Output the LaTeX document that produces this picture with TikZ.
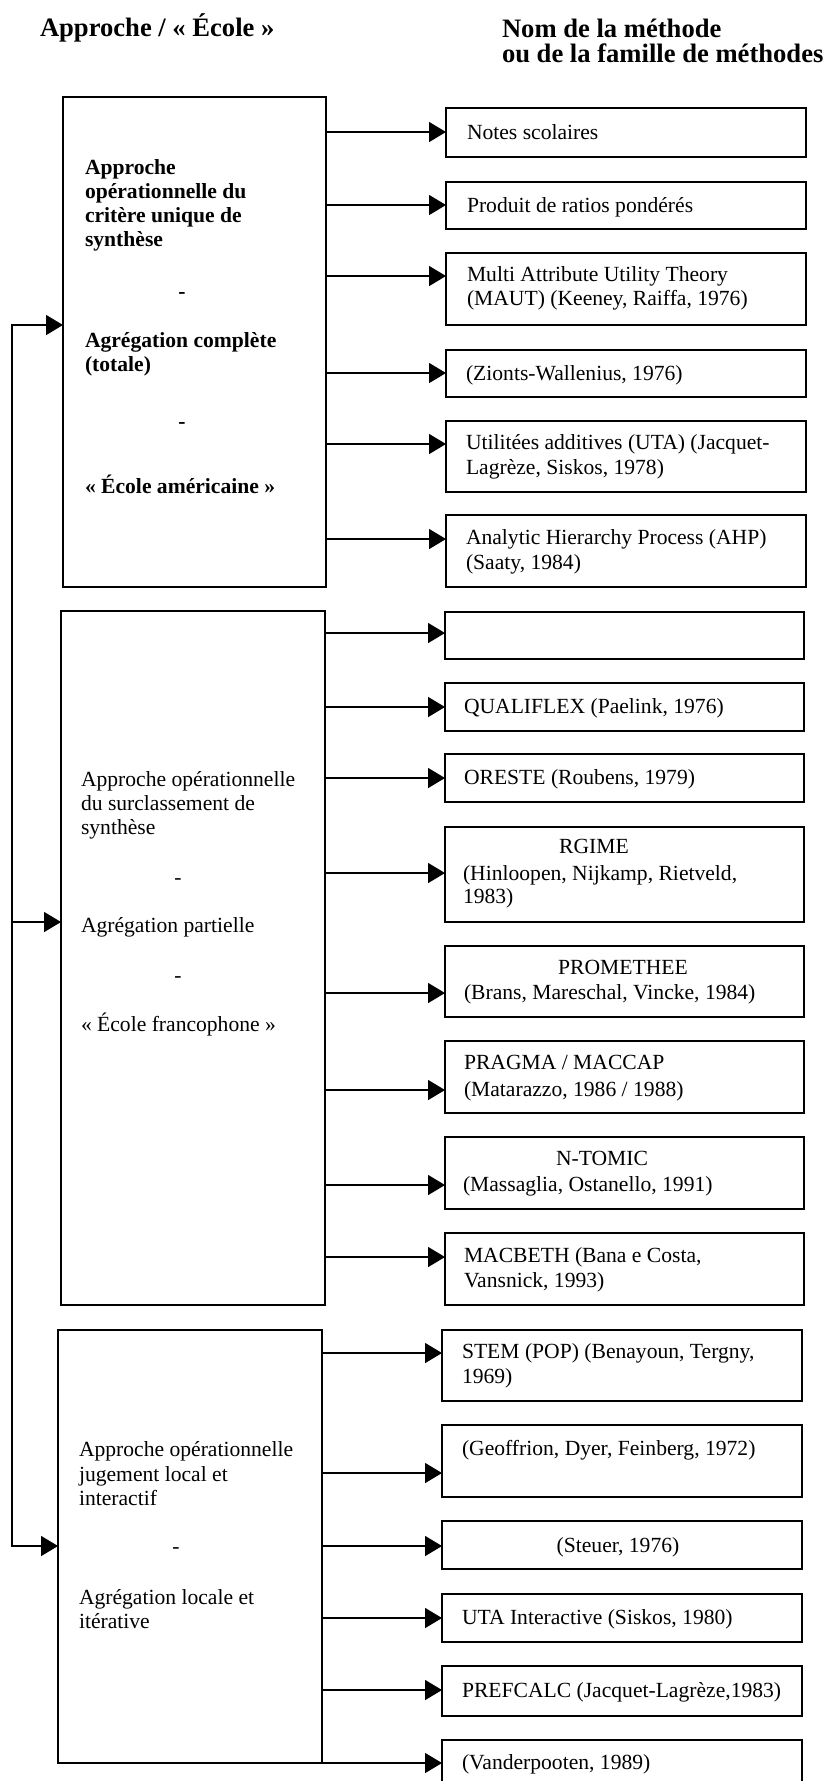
\documentclass[tikz,border=0pt]{standalone}
\usepackage{fontspec}
\setmainfont{Liberation Serif}
\usetikzlibrary{arrows.meta}
\begin{document}
\begin{tikzpicture}[x=1pt,y=-1pt,line width=1.6pt,
  bx/.style={draw,line width=1.6pt,anchor=north west,inner sep=0pt,outer sep=0pt},
  rb1/.style={bx,minimum width=360pt},
  rb2/.style={bx,minimum width=359pt},
  rb3/.style={bx,minimum width=360pt},
  txt/.style={anchor=base west,inner sep=0pt,outer sep=0pt,font=\fontsize{21.6}{25}\selectfont},
  ctxt/.style={txt,anchor=base},
  btxt/.style={txt,font=\fontsize{21.6}{25}\selectfont\bfseries},
  bctxt/.style={btxt,anchor=base},
  hdr/.style={txt,font=\fontsize{26.6}{25}\selectfont\bfseries},
  arr/.style={-{Triangle[length=17pt,width=20pt]},line width=1.6pt}]
\useasboundingbox (0,0) rectangle (834,1781);
\fill[white] (0,0) rectangle (834,1781);

% headers
\node[hdr] (h1) at (40,36) {Approche / « École »};
\node[hdr] (h2a) at (502,37) {Nom de la méthode};
\node[hdr] (h2b) at (502,62) {ou de la famille de méthodes};

% left boxes
\node[bx,minimum width=263pt,minimum height=490pt] (b1) at (63,97) {};
\node[bx,minimum width=264pt,minimum height=694pt] (b2) at (61,611) {};
\node[bx,minimum width=264pt,minimum height=433pt] (b3) at (58,1330) {};

\node[btxt] (b1a) at (85,174) {Approche};
\node[btxt] (b1b) at (85,198) {opérationnelle du};
\node[btxt] (b1c) at (85,222) {critère unique de};
\node[btxt] (b1d) at (85,246) {synthèse};
\node[bctxt] (b1e) at (182,298) {-};
\node[btxt] (b1f) at (85,347) {Agrégation complète};
\node[btxt] (b1g) at (85,371) {(totale)};
\node[bctxt] (b1h) at (182,428) {-};
\node[btxt] (b1i) at (85,493) {« École américaine »};

\node[txt] (b2a) at (81,786) {Approche opérationnelle};
\node[txt] (b2b) at (81,810) {du surclassement de};
\node[txt] (b2c) at (81,834) {synthèse};
\node[ctxt] (b2d) at (178,884) {-};
\node[txt] (b2e) at (81,932) {Agrégation partielle};
\node[ctxt] (b2f) at (178,982) {-};
\node[txt] (b2g) at (81,1031) {« École francophone »};

\node[txt] (b3a) at (79,1456) {Approche opérationnelle};
\node[txt] (b3b) at (79,1481) {jugement local et};
\node[txt] (b3c) at (79,1505) {interactif};
\node[ctxt] (b3d) at (176,1553) {-};
\node[txt] (b3e) at (79,1604) {Agrégation locale et};
\node[txt] (b3f) at (79,1628) {itérative};

% right boxes
\node[rb1,minimum height=49pt] (m1) at (446,108) {};
\node[rb1,minimum height=47pt] (m2) at (446,182) {};
\node[rb1,minimum height=72pt] (m3) at (446,253) {};
\node[rb1,minimum height=47pt] (m4) at (446,350) {};
\node[rb1,minimum height=71pt] (m5) at (446,421) {};
\node[rb1,minimum height=72pt] (m6) at (446,515) {};

\node[rb2,minimum height=47pt] (m7) at (445,612) {};
\node[rb2,minimum height=48pt] (m8) at (445,683) {};
\node[rb2,minimum height=48pt] (m9) at (445,754) {};
\node[rb2,minimum height=95pt] (m10) at (445,827) {};
\node[rb2,minimum height=71pt] (m11) at (445,946) {};
\node[rb2,minimum height=72pt] (m12) at (445,1041) {};
\node[rb2,minimum height=72pt] (m13) at (445,1137) {};
\node[rb2,minimum height=72pt] (m14) at (445,1233) {};

\node[rb3,minimum height=71pt] (m15) at (442,1330) {};
\node[rb3,minimum height=72pt] (m16) at (442,1425) {};
\node[rb3,minimum height=48pt] (m17) at (442,1521) {};
\node[rb3,minimum height=48pt] (m18) at (442,1594) {};
\node[rb3,minimum height=50pt] (m19) at (442,1666) {};
\node[rb3,minimum height=48pt] (m20) at (442,1740) {};

% right texts
\node[txt] (n1) at (467,139) {Notes scolaires};
\node[txt] (n2) at (467,212) {Produit de ratios pondérés};
\node[txt] (n3a) at (467,281) {Multi Attribute Utility Theory};
\node[txt] (n3b) at (467,305) {(MAUT) (Keeney, Raiffa, 1976)};
\node[txt] (n4) at (466,380) {(Zionts-Wallenius, 1976)};
\node[txt] (n5a) at (466,449) {Utilitées additives (UTA) (Jacquet-};
\node[txt] (n5b) at (466,474) {Lagrèze, Siskos, 1978)};
\node[txt] (n6a) at (466,544) {Analytic Hierarchy Process (AHP)};
\node[txt] (n6b) at (466,569) {(Saaty, 1984)};
\node[txt] (n8) at (464,713) {QUALIFLEX (Paelink, 1976)};
\node[txt] (n9) at (464,784) {ORESTE (Roubens, 1979)};
\node[ctxt] (n10a) at (594,853) {RGIME};
\node[txt] (n10b) at (463,880) {(Hinloopen, Nijkamp, Rietveld,};
\node[txt] (n10c) at (463,903) {1983)};
\node[ctxt] (n11a) at (623,974) {PROMETHEE};
\node[txt] (n11b) at (464,999) {(Brans, Mareschal, Vincke, 1984)};
\node[txt] (n12a) at (464,1069) {PRAGMA / MACCAP};
\node[txt] (n12b) at (464,1096) {(Matarazzo, 1986 / 1988)};
\node[ctxt] (n13a) at (602,1165) {N-TOMIC};
\node[txt] (n13b) at (463,1191) {(Massaglia, Ostanello, 1991)};
\node[txt] (n14a) at (464,1262) {MACBETH (Bana e Costa,};
\node[txt] (n14b) at (464,1287) {Vansnick, 1993)};
\node[txt] (n15a) at (462,1358) {STEM (POP) (Benayoun, Tergny,};
\node[txt] (n15b) at (462,1383) {1969)};
\node[txt] (n16) at (462,1455) {(Geoffrion, Dyer, Feinberg, 1972)};
\node[ctxt] (n17) at (618,1552) {(Steuer, 1976)};
\node[txt] (n18) at (462,1624) {UTA Interactive (Siskos, 1980)};
\node[txt] (n19) at (462,1697) {PREFCALC (Jacquet-Lagrèze,1983)};
\node[txt] (n20) at (462,1769) {(Vanderpooten, 1989)};

% connectors from left boxes to methods
\foreach \n/\y in {m1/132,m2/205,m3/276,m4/373,m5/444,m6/539}
  \draw[arr] (b1.east |- 0,\y) -- (\n.west |- 0,\y);
\foreach \n/\y in {m7/633,m8/707,m9/778,m10/873,m11/993,m12/1090,m13/1185,m14/1257}
  \draw[arr] (b2.east |- 0,\y) -- (\n.west |- 0,\y);
\foreach \n/\y in {m15/1353,m16/1473,m17/1546,m18/1618,m19/1690,m20/1763}
  \draw[arr] (b3.east |- 0,\y) -- (\n.west |- 0,\y);

% trunk on the left
\coordinate (ta) at (12,325);
\coordinate (tm) at (12,922);
\coordinate (tb) at (12,1546);
\draw[arr] (tb) |- (b1.west |- ta);
\draw[arr] (ta) |- (b3.west |- tb);
\draw[arr] (tm) -- (b2.west |- tm);
\end{tikzpicture}
\end{document}
